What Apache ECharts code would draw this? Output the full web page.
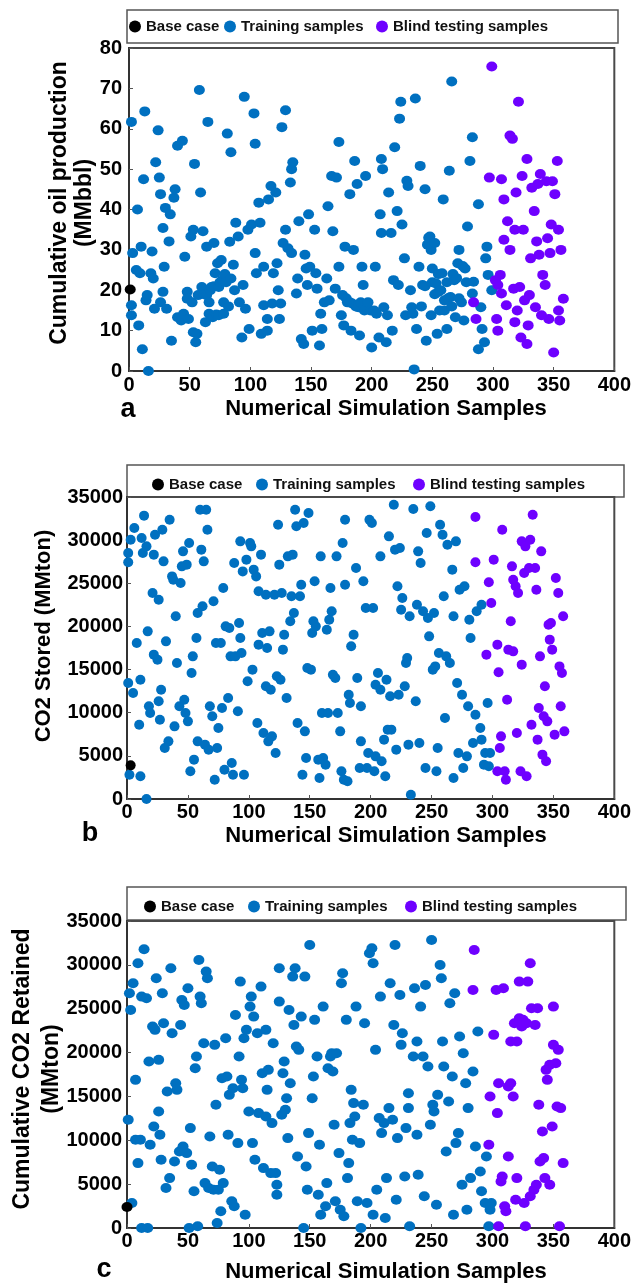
<!DOCTYPE html>
<html><head><meta charset="utf-8">
<script src="https://cdn.jsdelivr.net/npm/echarts@6/dist/echarts.min.js"></script>
<style>html,body{margin:0;padding:0;background:#fff}#c{width:634px;height:1284px}</style>
</head><body><div id="c"></div>
<script>
// ---------- DATA ----------
const seriesNames = ['Base case', 'Training samples', 'Blind testing samples'];
const xTitle = 'Numerical Simulation Samples';

// Panel a: cumulative oil production (MMbbl)
const oilBase = [[1, 20.2]];
const oilTrain = [[2,61.7],[2,16.3],[2,13.8],[3,29.2],[6,25],[7,40],[8,11.3],[9,24.2],[10,30.8],[11,5.4],[12,47.5],[13,64.3],[14,17.5],[15,18.8],[16,0],[18,24.2],[19,29.6],[20,22.9],[21,15.4],[22,51.7],[24,59.6],[25,47.9],[26,17],[26,43.8],[28,35.4],[28,19.6],[29,25.8],[30,40.4],[31,15.4],[33,32.1],[34,38.8],[35,7.5],[37,42.9],[38,45],[40,55.8],[40,13.3],[43,12.5],[44,57],[45,14.2],[46,28.3],[48,19.6],[48,17.9],[49,12.9],[51,33.3],[52,17],[53,35],[54,51.3],[53,9.6],[55,7.1],[56,9.2],[57,18.8],[58,69.6],[59,44.2],[60,20.8],[61,34.6],[62,19],[63,12.1],[64,30.8],[64,18.8],[65,61.7],[66,14.2],[66,17],[67,20],[68,20.8],[69,13.3],[70,31.7],[70,21],[71,24.2],[72,14],[73,26.7],[74,13.8],[74,20.8],[75,22],[76,27.5],[77,22.5],[78,17],[78,14.2],[79,24],[80,22],[81,58.8],[82,16],[83,32],[84,22.9],[84,54.2],[86,26.3],[87,20],[88,36.7],[90,33.3],[91,17],[93,8.3],[94,21.3],[95,67.9],[96,15.4],[98,35],[99,10.4],[101,36.3],[103,63.8],[104,56.3],[104,29.2],[105,24.2],[107,41.7],[108,36.7],[109,9.2],[111,25.8],[111,16.3],[114,10],[114,12.9],[115,42.5],[117,45.8],[118,16.7],[119,24.2],[121,44.2],[122,26.7],[123,20],[124,12.9],[125,16.7],[126,60.4],[127,31.7],[129,64.6],[129,35],[131,30.4],[133,46.7],[134,50],[135,51.7],[134,29.2],[138,19.2],[139,22.9],[140,37.1],[142,7.9],[144,6.7],[145,28.8],[146,25.4],[147,21.3],[148,38.8],[149,25.8],[151,10],[153,35],[154,24.2],[155,20.4],[157,6.3],[158,14.2],[159,10.4],[161,17],[163,22.9],[164,40.8],[165,17.5],[167,48.3],[168,34.6],[170,20.4],[171,47.9],[173,56.7],[173,25.8],[175,13.8],[176,18.8],[177,11.3],[178,30.8],[179,18],[180,17],[182,43.8],[182,17],[183,10],[184,16.7],[185,30],[186,52],[187,16],[188,46.3],[189,15.8],[190,8.8],[191,17],[192,25.8],[193,21.3],[194,15],[195,48.3],[197,17],[199,15],[200,5.8],[202,15],[203,25.8],[204,14.2],[206,8.3],[207,38.8],[208,52.5],[208,34.2],[209,50],[210,15.8],[212,7.1],[213,13.8],[214,44.2],[216,34.2],[217,10],[218,22.5],[219,55.4],[221,39.6],[222,21.3],[223,62.5],[224,66.7],[225,36.3],[227,27.9],[228,13.8],[229,47.1],[230,45.8],[232,20],[233,15.8],[234,14.2],[235,0.4],[236,67.5],[237,10.4],[239,25.8],[240,50.8],[241,16],[242,21.3],[244,45],[244,21],[245,7.5],[246,31.3],[247,33],[248,33.3],[249,13.8],[249,30],[250,25.4],[250,22],[252,31.7],[252,19],[253,21.7],[254,9.2],[255,19.6],[255,24],[256,15],[257,20],[258,24.2],[259,42.5],[260,17.5],[260,15],[262,10.4],[262,22],[263,18],[264,49.6],[265,18.3],[266,71.7],[266,16],[267,24],[268,22.5],[269,13.3],[270,23],[271,26.7],[272,30],[272,18],[274,17],[275,26],[276,12.5],[277,25.4],[278,22],[279,35.8],[281,52],[283,57.9],[284,22.1],[283,19.2],[288,5.4],[288,41.3],[290,15.8],[291,10.4],[293,7.1],[294,27.9],[295,30.8],[296,23.8],[299,20]];
const oilBlind = [[284,17],[286,12.9],[297,47.9],[299,75.4],[302,22.5],[303,12.9],[304,10],[304,21.3],[306,23.8],[307,19.2],[307,47.5],[309,32.5],[309,42.5],[311,16.3],[312,37.1],[314,30],[314,58.3],[316,57.5],[317,20.4],[318,35],[318,12.1],[319,44.2],[320,15],[321,66.7],[322,20.8],[323,8.3],[324,48.3],[325,35],[326,17.5],[328,52.5],[328,6.7],[329,11.3],[330,18.8],[331,27.9],[332,45.4],[334,39.6],[335,15.8],[336,32.1],[337,46.3],[338,28.8],[339,48.8],[340,13.8],[341,23.8],[343,21.3],[344,47],[345,32.9],[346,12.9],[347,29.2],[348,36.3],[349,47],[350,4.6],[351,43.8],[353,52],[354,15],[354,35],[355,12.5],[356,30],[358,17.9]];

// Panel b: CO2 stored (MMton)
const storedBase = [[3, 3900]];
const storedTrain = [[1,28500],[1,27430],[2,2820],[1,13440],[3,30050],[5,12280],[6,31400],[8,18080],[10,8610],[11,13830],[11,2630],[12,30250],[13,28500],[14,32840],[16,29280],[16,0],[17,19430],[18,10740],[19,9970],[21,23870],[22,16730],[22,28320],[23,30630],[25,16150],[26,23100],[26,11320],[27,9190],[28,12670],[29,31210],[30,27540],[31,5910],[32,18270],[34,6680],[35,32370],[37,25800],[38,25420],[39,8420],[40,21170],[41,15760],[43,10740],[44,25030],[45,26960],[46,28700],[47,11510],[48,9970],[49,27160],[50,9000],[51,29670],[52,3210],[53,14600],[54,16530],[55,4560],[57,18660],[58,21560],[58,6680],[60,33530],[61,28900],[62,22330],[63,27540],[64,6300],[65,33530],[66,31210],[67,5720],[68,10740],[70,9580],[71,22910],[72,2240],[73,18080],[74,5910],[75,8230],[77,18080],[78,10550],[79,24450],[80,3400],[81,20010],[83,11700],[84,19820],[85,16530],[86,4170],[87,2820],[88,27350],[89,16530],[91,10160],[92,20400],[93,29860],[93,18660],[94,16920],[95,26380],[96,2820],[98,27740],[99,13640],[101,29670],[102,29280],[103,14990],[104,26580],[106,25800],[107,8810],[108,24070],[108,17890],[110,28320],[111,19240],[112,7650],[114,13060],[114,23680],[115,17500],[116,6680],[117,19430],[118,12670],[119,7260],[121,23680],[122,5330],[123,14220],[124,31790],[125,27160],[126,13830],[127,23870],[128,17310],[129,19040],[131,11700],[132,28120],[134,20590],[135,23490],[136,28320],[137,21560],[138,33530],[139,31600],[140,8810],[142,23490],[143,24840],[144,2820],[145,31990],[146,7840],[147,4750],[148,15180],[149,33140],[151,14990],[152,19240],[153,20590],[154,25230],[155,20010],[157,4560],[158,2430],[159,28120],[160,9970],[161,4750],[163,3980],[164,19620],[165,9970],[166,20780],[167,24450],[168,21750],[169,14410],[171,14020],[172,28120],[173,9970],[175,7840],[176,3210],[177,29670],[178,2240],[179,24840],[179,32370],[181,2050],[182,12090],[183,11130],[184,17700],[186,19040],[188,26770],[189,14020],[191,3590],[192,10740],[192,6680],[194,25230],[196,22140],[197,3590],[198,5330],[199,32370],[201,31990],[202,22140],[203,3210],[204,13250],[204,4940],[206,14600],[208,28120],[208,12670],[209,4370],[211,6880],[212,2630],[213,13830],[214,8040],[215,30440],[216,11900],[217,8040],[219,34110],[220,28900],[221,5720],[222,24650],[223,12090],[224,29090],[225,21940],[226,23290],[228,13060],[229,15760],[230,16340],[231,6300],[232,21170],[233,500],[235,33610],[237,11320],[238,22520],[239,28700],[240,6490],[241,27350],[243,21750],[245,3590],[246,30830],[247,20980],[248,18850],[249,33920],[251,14990],[252,21560],[253,15370],[254,3210],[255,5910],[256,16920],[257,31790],[259,30630],[260,23490],[261,9390],[262,16530],[263,29470],[265,15760],[267,26580],[268,21170],[268,2430],[270,29860],[271,13440],[272,5330],[273,24260],[275,12090],[276,3590],[277,24650],[279,4940],[280,10740],[281,20780],[282,18660],[284,6490],[286,9770],[287,21750],[290,8230],[291,22520],[291,6880],[293,3980],[294,5330],[296,11130],[297,3790],[298,5330]];
const storedBlind = [[286,32680],[286,27430],[297,25110],[299,22720],[301,27740],[295,16730],[304,17890],[305,14680],[306,5910],[307,7260],[304,3210],[308,31210],[310,3210],[311,2240],[312,11510],[313,17310],[315,20590],[316,26960],[317,25420],[317,17110],[319,24650],[320,7650],[321,23870],[323,3210],[324,15570],[324,29860],[326,26190],[327,29280],[328,2630],[330,26770],[331,30050],[332,8610],[333,32950],[335,26770],[336,24260],[337,6880],[338,10550],[339,16530],[340,28700],[341,5140],[342,9580],[343,13060],[344,4370],[345,9000],[346,20200],[347,18470],[348,20400],[349,17310],[351,7460],[352,25610],[354,23870],[355,15370],[356,10740],[357,14600],[358,21170],[359,7840]];

// Panel c: cumulative CO2 retained (MMton)
const retainedBase = [[0, 2400]];
const retainedTrain = [[1,12340],[2,26760],[3,24860],[4,2850],[5,27900],[7,10060],[7,16890],[9,30180],[9,7400],[11,10060],[12,0],[12,26380],[14,31770],[16,26190],[17,0],[18,18980],[19,9490],[21,22970],[22,11580],[23,22590],[24,28470],[26,13290],[26,19170],[27,10630],[28,7780],[29,26760],[30,23350],[32,4560],[33,15560],[35,5690],[36,29610],[37,22210],[39,7590],[40,16510],[41,15750],[43,8730],[44,23150],[45,26000],[46,9300],[47,25430],[49,8540],[50,27330],[51,0],[52,11390],[53,7210],[55,4180],[56,18220],[57,19550],[58,190],[59,30560],[60,26380],[61,25620],[63,21070],[64,5120],[65,29230],[66,28470],[67,4560],[68,10440],[70,7020],[71,4370],[72,20880],[73,14050],[74,570],[75,4370],[76,6640],[77,1900],[78,17080],[79,5120],[81,21640],[82,17270],[83,10630],[84,15180],[86,3040],[87,15940],[88,2470],[89,24290],[91,9680],[92,19550],[93,28090],[94,16890],[95,15940],[96,21640],[97,1520],[98,22590],[100,13290],[101,25240],[102,26380],[103,9680],[104,24100],[105,7780],[107,22210],[108,13100],[110,27520],[111,17650],[112,6830],[114,12720],[114,22590],[115,15750],[116,18030],[118,6260],[119,11960],[120,21070],[122,6260],[123,3800],[123,4930],[125,29610],[125,25810],[127,12910],[128,17650],[129,18980],[130,13480],[131,14800],[132,10250],[133,24860],[134,16510],[136,28660],[137,23150],[138,29610],[139,20690],[140,8160],[141,20310],[143,24100],[145,0],[146,28660],[147,7020],[148,4370],[149,10820],[150,32270],[152,14800],[153,17270],[154,23730],[156,19550],[157,3800],[158,9490],[159,1520],[161,25240],[163,2470],[164,5120],[165,18220],[167,19550],[168,19930],[169,17840],[170,11770],[171,3040],[172,19930],[174,8540],[175,2090],[176,27900],[177,29040],[178,1330],[180,23730],[181,5690],[182,7400],[183,11960],[184,15750],[185,10060],[186,14240],[187,12720],[188,25240],[189,3040],[191,9680],[192,0],[194,14050],[195,23350],[197,2850],[199,31320],[201,31890],[202,1520],[202,30180],[204,20310],[205,4370],[207,12530],[208,26380],[209,10820],[211,11960],[212,1140],[213,5690],[215,13670],[216,27900],[218,12340],[219,23150],[220,32270],[221,3230],[222,10250],[224,26570],[225,20880],[226,22210],[228,5880],[229,11390],[231,13670],[231,15370],[232,190],[235,19550],[236,27330],[238,21260],[238,10630],[239,6070],[241,25240],[243,19550],[244,3610],[245,27710],[247,18410],[249,11770],[250,32840],[251,14050],[252,13290],[254,2660],[255,15180],[257,29990],[258,28470],[259,21260],[260,18410],[262,8730],[264,14430],[265,25620],[267,17270],[268,1520],[269,26760],[270,9680],[272,10820],[273,21830],[275,4930],[276,19930],[278,16510],[279,2090],[280,13670],[282,5690],[284,17840],[286,9300],[288,22400],[290,6450],[291,4180],[294,2850],[295,8160],[297,190],[298,2090],[299,2850]];
const retainedBlind = [[285,31700],[284,27140],[297,9490],[298,14990],[301,22020],[303,27140],[304,13100],[305,16510],[305,190],[307,5310],[308,5880],[309,27330],[310,2470],[311,1900],[313,8160],[313,16130],[315,16510],[315,21260],[317,14990],[318,23350],[319,3230],[320,21260],[320,5690],[322,23920],[322,28090],[324,22970],[325,23730],[326,2850],[327,190],[328,23350],[329,28090],[331,3610],[331,30180],[332,25050],[334,4370],[335,23150],[336,4930],[337,25050],[338,14050],[339,7590],[341,11010],[342,7970],[343,5690],[344,18030],[345,16890],[347,18600],[347,4930],[349,11580],[350,25240],[350,20880],[352,18790],[353,13860],[354,20310],[355,190],[356,13670],[358,7400]];

// ---------- CHART ----------
const COLORS = ['#000000', '#0070C0', '#6E00FF'];
const FONT = "'Liberation Sans', Arial, sans-serif";

const panels = [
  { grid: {left:129, top:48, width:488, height:323}, yMax:80, yInt:10, yFont:20, yMargin:7, xMargin:4,
    data:[oilBase, oilTrain, oilBlind], size:[11,10],
    box:{x:127,y:10,w:491,h:33}, legY:27, legX:[129,224,376],
    yTitle:'Cumulative oil production\n(MMbbl)', yTitleX:72, yTitleY:203, yTitleLH:25, yTitleSize:23,
    xTitleY:409, letter:'a', letterX:128, letterY:410 },
  { grid: {left:127, top:497, width:496, height:302}, yMax:35000, yInt:5000, yFont:20, yMargin:4, xMargin:3,
    data:[storedBase, storedTrain, storedBlind], size:[10,10],
    box:{x:127,y:465,w:497,h:32}, legY:485, legX:[152,256,413],
    yTitle:'CO2 Stored (MMton)', yTitleX:44, yTitleY:636, yTitleLH:25, yTitleSize:22,
    xTitleY:836, letter:'b', letterX:90, letterY:834 },
  { grid: {left:127, top:921, width:498, height:307}, yMax:35000, yInt:5000, yFont:20, yMargin:5, xMargin:3,
    data:[retainedBase, retainedTrain, retainedBlind], size:[11,10],
    box:{x:127,y:887,w:499,h:33}, legY:907, legX:[144,248,405],
    yTitle:'Cumulative CO2 Retained\n(MMton)', yTitleX:37, yTitleY:1069, yTitleLH:29, yTitleSize:23,
    xTitleY:1272, letter:'c', letterX:104, letterY:1270 }
];

const option = { animation:false, grid:[], xAxis:[], yAxis:[], series:[], legend:[], graphic:[] };

panels.forEach((p, i) => {
  option.grid.push(Object.assign({show:true, borderColor:'#4a4a4a', borderWidth:2, backgroundColor:'#fff'}, p.grid));
  option.xAxis.push({
    type:'value', gridIndex:i, min:0, max:400, interval:50,
    axisLine:{show:true, lineStyle:{color:'#333', width:2}},
    axisTick:{show:true, inside:true, length:4, lineStyle:{color:'#555'}},
    splitLine:{show:false},
    axisLabel:{margin:p.xMargin, color:'#000', fontFamily:FONT, fontWeight:'bold', fontSize:20,
               formatter: v => String(v)}
  });
  option.yAxis.push({
    type:'value', gridIndex:i, min:0, max:p.yMax, interval:p.yInt,
    axisLine:{show:true, lineStyle:{color:'#333', width:2}},
    axisTick:{show:true, inside:true, length:4, lineStyle:{color:'#555'}},
    splitLine:{show:false},
    axisLabel:{margin:p.yMargin, color:'#000', fontFamily:FONT, fontWeight:'bold', fontSize:p.yFont,
               formatter: v => String(v)}
  });
  [1, 2, 0].forEach(k => {
    option.series.push({
      type:'scatter', name:seriesNames[k], xAxisIndex:i, yAxisIndex:i,
      data:p.data[k], symbol:'circle', symbolSize:p.size,
      itemStyle:{color:COLORS[k], opacity:1}, z: k === 0 ? 5 : (k === 2 ? 4 : 3)
    });
  });
  seriesNames.forEach((nm, k) => {
    option.legend.push({
      data:[nm], left:p.legX[k], top:p.legY - 8, padding:0, icon:'circle',
      itemWidth:12, itemHeight:12, itemGap:0, selectedMode:false,
      textStyle:{fontFamily:FONT, fontWeight:'bold', fontSize:15, color:'#111'}
    });
  });
  option.graphic.push(
    {type:'rect', shape:{x:p.box.x, y:p.box.y, width:p.box.w, height:p.box.h},
     style:{fill:'none', stroke:'#555', lineWidth:1.5}, z:-1},
    {type:'text', x:p.yTitleX, y:p.yTitleY, rotation:Math.PI/2,
     style:{text:p.yTitle, fontFamily:FONT, fontWeight:'bold', fontSize:p.yTitleSize, lineHeight:p.yTitleLH,
            fill:'#000', align:'center', verticalAlign:'middle'}},
    {type:'text', x:386, y:p.xTitleY,
     style:{text:xTitle, fontFamily:FONT, fontWeight:'bold', fontSize:22, fill:'#000', align:'center', verticalAlign:'middle'}},
    {type:'text', x:p.letterX, y:p.letterY,
     style:{text:p.letter, fontFamily:FONT, fontWeight:'bold', fontSize:27, fill:'#000', align:'center', verticalAlign:'middle'}}
  );
});

const chart = echarts.init(document.getElementById('c'), null, {renderer:'canvas'});
chart.setOption(option);
</script>
</body></html>
